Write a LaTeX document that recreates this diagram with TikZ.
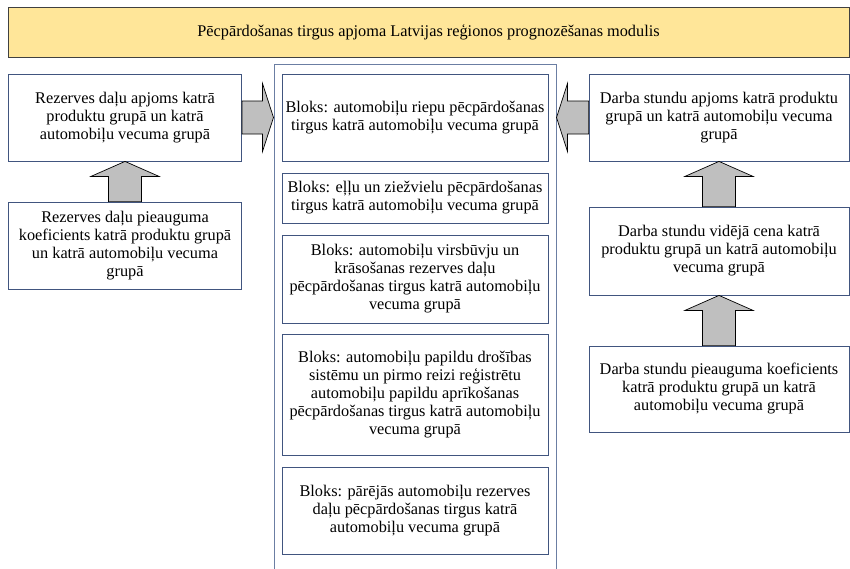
\documentclass[tikz,border=0pt]{standalone}
\usepackage{fontspec}
\setmainfont{Liberation Serif}
\usepackage{xcolor}
\usetikzlibrary{calc}

\definecolor{bannerfill}{HTML}{FFE699}
\definecolor{boxline}{HTML}{41557F}
\definecolor{frameline}{HTML}{6B7EA3}
\definecolor{arrowgray}{HTML}{BFBFBF}

\tikzset{
  box/.style={draw=boxline,line width=0.8pt,fill=white,align=center,
    font=\fontsize{16.3}{18}\selectfont,inner sep=0pt},
  fat arrow/.style={draw=black,line width=0.7pt,fill=arrowgray,line join=miter,
    to path={
      ($(\tikztostart)!16.5pt!90:(\tikztotarget)$)
      -- ($($(\tikztotarget)!#1!(\tikztostart)$)!16.5pt!-90:(\tikztostart)$)
      -- ($($(\tikztotarget)!#1!(\tikztostart)$)!34pt!-90:(\tikztostart)$)
      -- (\tikztotarget)
      -- ($($(\tikztotarget)!#1!(\tikztostart)$)!34pt!90:(\tikztostart)$)
      -- ($($(\tikztotarget)!#1!(\tikztostart)$)!16.5pt!90:(\tikztostart)$)
      -- ($(\tikztostart)!16.5pt!-90:(\tikztotarget)$)
      -- cycle}},
  fat arrow/.default=15pt
}

\begin{document}
\begin{tikzpicture}[x=1pt,y=-1pt]
            \useasboundingbox (0,0) rectangle (850,568);

            \node[box,draw=black!75,line width=1pt,fill=bannerfill,minimum width=841pt,minimum height=50pt] (banner) at (428.5,32)
                {Pēcpārdošanas tirgus apjoma Latvijas reģionos prognozēšanas modulis};

            % central module with its blocks
            \node[draw=frameline,line width=1pt,minimum width=282pt,minimum height=516pt,inner sep=0pt] (module) at (415,322) {};
            \node[box,minimum width=266pt,minimum height=87pt] (tyres) at (415,117.5)
                {Bloks: automobiļu riepu pēcpārdošanas\\tirgus katrā automobiļu vecuma grupā};
            \node[box,minimum width=266pt,minimum height=50pt] (oils) at (415,198)
                {Bloks: eļļu un ziežvielu pēcpārdošanas\\tirgus katrā automobiļu vecuma grupā};
            \node[box,minimum width=266pt,minimum height=88pt] (body) at (415,279)
                {Bloks: automobiļu virsbūvju un\\krāsošanas rezerves daļu\\pēcpārdošanas tirgus katrā automobiļu\\vecuma grupā};
            \node[box,minimum width=266pt,minimum height=121pt] (safety) at (415,394.5)
                {Bloks: automobiļu papildu drošības\\sistēmu un pirmo reizi reģistrētu\\automobiļu papildu aprīkošanas\\pēcpārdošanas tirgus katrā automobiļu\\vecuma grupā};
            \node[box,minimum width=266pt,minimum height=87pt] (other) at (415,510.5)
                {Bloks: pārējās automobiļu rezerves\\daļu pēcpārdošanas tirgus katrā\\automobiļu vecuma grupā};

            % spare parts side
            \node[box,minimum width=233pt,minimum height=87pt] (parts) at (125,117.5)
                {Rezerves daļu apjoms katrā\\produktu grupā un katrā\\automobiļu vecuma grupā};
            \node[box,minimum width=233pt,minimum height=87pt] (partsgrowth) at (125,245.5)
                {Rezerves daļu pieauguma\\koeficients katrā produktu grupā\\un katrā automobiļu vecuma\\grupā};

            % labour hours side
            \node[box,minimum width=260pt,minimum height=87pt] (hours) at (719,117.5)
                {Darba stundu apjoms katrā produktu\\grupā un katrā automobiļu vecuma\\grupā};
            \node[box,minimum width=260pt,minimum height=88pt] (price) at (719,251)
                {Darba stundu vidējā cena katrā\\produktu grupā un katrā automobiļu\\vecuma grupā};
            \node[box,minimum width=260pt,minimum height=86pt] (hoursgrowth) at (719,389)
                {Darba stundu pieauguma koeficients\\katrā produktu grupā un katrā\\automobiļu vecuma grupā};

            \draw[fat arrow] (partsgrowth.north) to (parts.south);
            \draw[fat arrow=11pt] (parts.east) to (module.west |- parts.east);
            \draw[fat arrow] (hoursgrowth.north) to (price.south);
            \draw[fat arrow] (price.north) to (hours.south);
            \draw[fat arrow=11pt] (hours.west) to (module.east |- hours.west);
\end{tikzpicture}
\end{document}
